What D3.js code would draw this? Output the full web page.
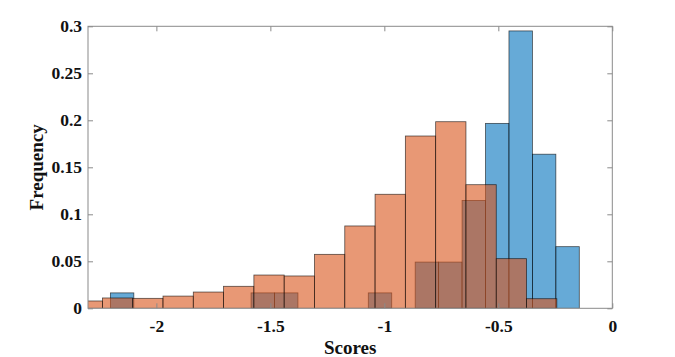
<!DOCTYPE html>
<html>
<head>
<meta charset="utf-8">
<script src="https://cdn.jsdelivr.net/npm/d3@7/dist/d3.min.js"></script>
<style>
  html, body { margin: 0; padding: 0; background: #fff; }
  svg { display: block; }
</style>
</head>
<body>
<div id="chart"></div>
<script>
// ---- data ----
const blueStart = -2.2018;
const blueBinWidth = 0.10285;
const blueValues = [1/61, 0, 0, 0, 0, 0, 1/61, 1/61, 0, 0, 0, 1/61, 0, 3/61, 3/61, 7/61, 12/61, 18/61, 10/61, 4/61];

const orangeStart = -2.3697;
const orangeBinWidth = 0.1329;
const orangeValues = [0.0078, 0.011, 0.0106, 0.013, 0.0173, 0.0234, 0.0354, 0.0344, 0.0574, 0.0876, 0.1213, 0.1833, 0.1985, 0.1315, 0.0528, 0.0102];

const xTicks = [-2, -1.5, -1, -0.5, 0];
const yTicks = [0, 0.05, 0.1, 0.15, 0.2, 0.25, 0.3];
const xLabel = "Scores";
const yLabel = "Frequency";

// ---- layout ----
const W = 675, H = 357;
const margin = {left: 88, right: 62.7, top: 26.3, bottom: 48.7};
const iw = W - margin.left - margin.right;
const ih = H - margin.top - margin.bottom;

const x = d3.scaleLinear().domain([-2.3, 0]).range([0, iw]);
const y = d3.scaleLinear().domain([0, 0.3]).range([ih, 0]);

const svg = d3.select("#chart").append("svg").attr("width", W).attr("height", H);
svg.append("defs").append("clipPath").attr("id", "clip")
  .append("rect").attr("x", 0).attr("y", 0).attr("width", iw).attr("height", ih);

const g = svg.append("g").attr("transform", `translate(${margin.left},${margin.top})`);
const plot = g.append("g").attr("clip-path", "url(#clip)");

function bins(start, w, vals) {
  return vals.map((v, i) => ({x0: start + i * w, x1: start + (i + 1) * w, v}));
}

function drawHist(data, color) {
  plot.append("g").selectAll("rect").data(data.filter(d => d.v > 0)).join("rect")
    .attr("x", d => x(d.x0))
    .attr("y", d => y(d.v))
    .attr("width", d => x(d.x1) - x(d.x0))
    .attr("height", d => y(0) - y(d.v))
    .attr("fill", color)
    .attr("fill-opacity", 0.6)
    .attr("stroke", "#000")
    .attr("stroke-opacity", 0.65)
    .attr("stroke-width", 0.8);
}

drawHist(bins(blueStart, blueBinWidth, blueValues), "#0072BD");
drawHist(bins(orangeStart, orangeBinWidth, orangeValues), "#D95319");

// ---- axes ----
const axisColor = "#8a8a8a";
const tickLen = 5;
const font = "'Liberation Serif', 'Times New Roman', serif";

function styleAxis(sel, showText) {
  sel.select(".domain").remove();
  sel.selectAll(".tick line").attr("stroke", axisColor);
  sel.selectAll(".tick text")
    .attr("font-family", font).attr("font-weight", "bold").attr("font-size", 17.5)
    .attr("fill", "#111");
  if (!showText) sel.selectAll(".tick text").remove();
}

const xb = g.append("g").attr("transform", `translate(0,${ih})`)
  .call(d3.axisBottom(x).tickValues(xTicks).tickSizeInner(-tickLen).tickSizeOuter(0).tickPadding(11)
    .tickFormat(d => d3.format("")(d).replace("−", "-")));
styleAxis(xb, true);

const xt = g.append("g")
  .call(d3.axisTop(x).tickValues(xTicks).tickSizeInner(-tickLen).tickSizeOuter(0));
styleAxis(xt, false);

const yl = g.append("g")
  .call(d3.axisLeft(y).tickValues(yTicks).tickSizeInner(-tickLen).tickSizeOuter(0).tickPadding(6)
    .tickFormat(d => d3.format("")(d)));
styleAxis(yl, true);

const yr = g.append("g").attr("transform", `translate(${iw},0)`)
  .call(d3.axisRight(y).tickValues(yTicks).tickSizeInner(-tickLen).tickSizeOuter(0));
styleAxis(yr, false);

// box
g.append("rect").attr("x", 0).attr("y", 0).attr("width", iw).attr("height", ih)
  .attr("fill", "none").attr("stroke", axisColor).attr("stroke-width", 1);

// labels
g.append("text")
  .attr("x", iw / 2).attr("y", ih + 46)
  .attr("text-anchor", "middle")
  .attr("font-family", font).attr("font-weight", "bold").attr("font-size", 19)
  .attr("fill", "#111")
  .text(xLabel);

g.append("text")
  .attr("transform", `translate(${-45},${ih / 2}) rotate(-90)`)
  .attr("text-anchor", "middle")
  .attr("font-family", font).attr("font-weight", "bold").attr("font-size", 19)
  .attr("fill", "#111")
  .text(yLabel);
</script>
</body>
</html>
